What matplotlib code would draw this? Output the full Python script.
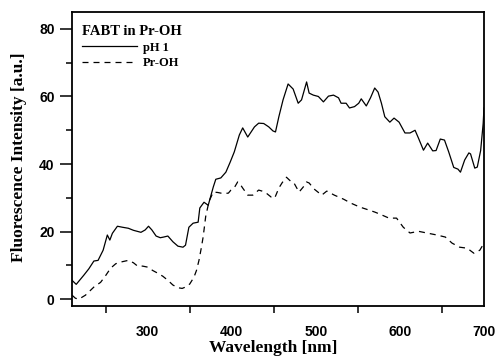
import matplotlib
matplotlib.use("Agg")
import matplotlib.pyplot as plt
from matplotlib.ticker import MultipleLocator

# pH 1 curve
wl_ph1 = [210, 215, 224, 230, 236, 241, 247, 252, 255, 258, 264, 270, 277, 283, 292, 297,
          301, 305, 310, 315, 319, 324, 330, 336, 342, 345, 349, 354, 360, 362, 367, 372,
          378, 381, 387, 393, 398, 403, 409, 413, 419, 427, 432, 438, 444, 449, 452, 456,
          461, 467, 473, 479, 483, 489, 492, 497, 503, 509, 515, 521, 527, 530, 536, 540,
          546, 551, 554, 560, 565, 570, 574, 578, 582, 588, 593, 599, 606, 612, 618, 622,
          628, 633, 639, 643, 648, 653, 658, 664, 669, 672, 677, 682, 684, 689, 692, 696,
          699, 700]
int_ph1 = [5.6, 4.4, 7.1, 9.0, 11.3, 11.5, 14.5, 19.0, 17.5, 19.5, 21.6, 21.3, 21.0, 20.4, 19.8, 20.5,
           21.6, 20.5, 18.7, 18.2, 18.4, 18.7, 17.0, 15.7, 15.4, 16.0, 21.3, 22.5, 22.8, 27.0, 28.7, 27.8,
           33.2, 35.5, 35.9, 37.6, 40.5, 43.6, 48.6, 50.7, 48.0, 51.0, 52.1, 52.0, 51.0, 49.8, 49.5, 54.0,
           59.0, 63.7, 62.2, 58.0, 59.0, 64.3, 61.0, 60.4, 60.0, 58.4, 60.1, 60.4, 59.6, 58.0, 58.0, 56.6,
           57.0, 58.0, 59.3, 57.2, 59.6, 62.5, 61.3, 58.0, 54.0, 52.4, 53.6, 52.4, 49.2, 49.2, 50.0, 47.7,
           44.1, 46.2, 43.9, 44.0, 47.4, 47.1, 43.6, 39.0, 38.5, 37.6, 41.2, 43.3, 43.0, 38.8, 39.1, 44.0,
           52.0, 56.6]

# Pr-OH curve
wl_proh = [210, 214, 218, 226, 236, 244, 250, 256, 262, 268, 277, 283, 288, 294, 300, 306,
           312, 318, 324, 330, 336, 341, 345, 350, 355, 358, 361, 364, 366, 369, 373, 378,
           383, 387, 392, 396, 399, 403, 407, 409, 413, 419, 425, 432, 436, 441, 447, 451,
           456, 460, 465, 471, 474, 480, 485, 489, 492, 498, 507, 513, 522, 533, 542, 552,
           563, 570, 576, 587, 596, 604, 612, 622, 632, 644, 654, 662, 671, 680, 688, 695, 700]
int_proh = [1.2, 0.3, 0.0, 1.2, 3.6, 5.0, 7.0, 9.2, 10.5, 11.0, 11.5, 10.8, 9.8, 9.8, 9.5, 8.5,
            7.7, 6.8, 5.6, 4.2, 3.4, 3.2, 3.6, 4.5, 6.5, 8.5, 11.5, 15.5, 18.5, 24.5, 29.0, 31.7,
            31.6, 31.4, 31.3, 31.4, 32.3, 33.0, 34.7, 34.4, 32.9, 30.8, 30.8, 32.3, 32.0, 31.4, 30.2, 29.9,
            32.9, 34.5, 36.1, 34.7, 34.4, 31.7, 33.2, 34.7, 34.4, 32.6, 30.8, 32.0, 30.8, 29.6, 28.4, 27.3,
            26.4, 25.8, 25.2, 24.0, 24.0, 21.3, 19.6, 20.1, 19.6, 19.0, 18.4, 16.6, 15.4, 15.1, 13.6, 14.5, 16.6]

serif = "Liberation Serif"
sans = "Liberation Sans"

fig = plt.figure(figsize=(4.98, 3.58), dpi=100)
ax = fig.add_axes([0.1446, 0.1453, 0.8273, 0.8212])

ax.plot(wl_ph1, int_ph1, color="black", lw=0.9, label="pH 1")
ax.plot(wl_proh, int_proh, color="black", lw=0.9, dashes=(4.8, 4.0), label="Pr-OH")

ax.set_xlim(210, 700)
ax.set_ylim(-2, 85)

ax.xaxis.set_major_locator(MultipleLocator(100))
ax.xaxis.set_minor_locator(MultipleLocator(50))
ax.yaxis.set_major_locator(MultipleLocator(20))
ax.yaxis.set_minor_locator(MultipleLocator(10))

ax.tick_params(axis="x", which="major", direction="out", length=0, pad=14)
ax.tick_params(axis="x", which="minor", direction="out", length=5, width=1.1)
ax.tick_params(axis="y", which="major", direction="out", length=8.6, width=1.1, pad=4)
ax.tick_params(axis="y", which="minor", direction="out", length=4.3, width=1.1)

for lab in ax.get_xticklabels() + ax.get_yticklabels():
    lab.set_fontfamily(sans)
    lab.set_fontweight("bold")
    lab.set_fontsize(10)

for sp in ax.spines.values():
    sp.set_linewidth(1.3)

ax.set_xlabel("Wavelength [nm]", fontfamily=serif, fontweight="bold", fontsize=12.5)
ax.set_ylabel("Fluorescence Intensity [a.u.]", fontfamily=serif, fontweight="bold", fontsize=12.5)
ax.xaxis.set_label_coords(0.488, -0.115)
ax.yaxis.set_label_coords(-0.110, 0.505)

leg = ax.legend(loc="upper left", bbox_to_anchor=(0.012, 0.9736), borderaxespad=0,
                frameon=False, title="FABT in Pr-OH",
                prop={"family": serif, "weight": "bold", "size": 9},
                title_fontproperties={"family": serif, "weight": "bold", "size": 10.5},
                handlelength=4.4, handletextpad=0.5, labelspacing=0.3,
                alignment="left")

fig.savefig("out.png", dpi=100)
